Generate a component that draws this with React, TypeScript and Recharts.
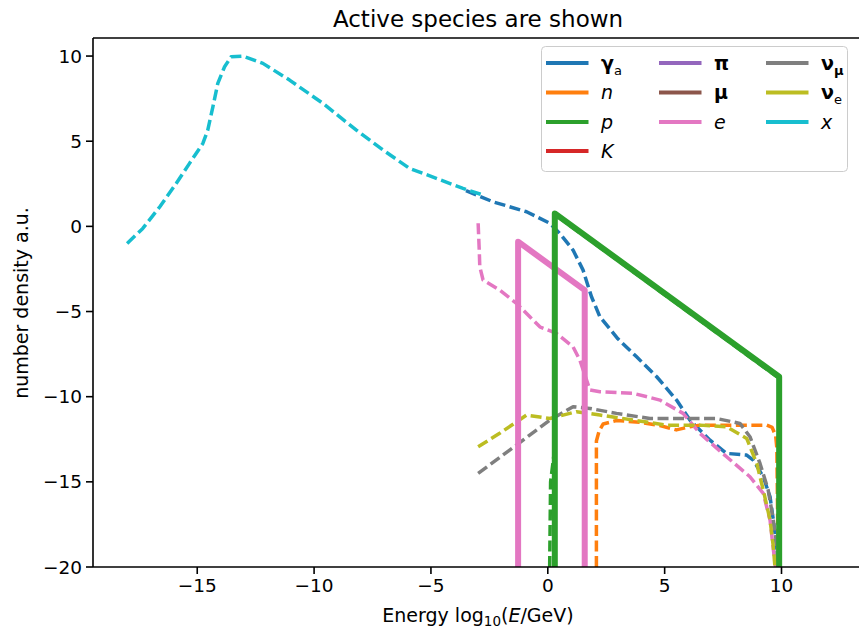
import React from 'react';
import { LineChart, Line, XAxis, YAxis, Legend, ReferenceLine } from 'recharts';

const FONT = '"DejaVu Sans", Verdana, sans-serif';

// ---- data: [log10(E/GeV), number density] ----
const xDashed: number[][] = [
  [-18.0, -1.0], [-17.33, -0.12], [-16.6, 1.15], [-15.9, 2.52], [-15.33, 3.7], [-14.76, 4.87],
  [-14.55, 5.65], [-14.33, 7.02], [-14.12, 8.4], [-13.83, 9.37], [-13.55, 9.96], [-13.05, 10.0],
  [-12.19, 9.57], [-11.05, 8.59], [-9.62, 7.22], [-8.19, 5.65], [-7.05, 4.48], [-5.91, 3.4],
  [-4.77, 2.82], [-3.63, 2.23], [-2.77, 1.84],
];
const gammaDashed: number[][] = [
  [-3.5, 2.1], [-2.34, 1.44], [-0.91, 0.86], [0.09, 0.18], [0.51, -0.41], [1.08, -1.39],
  [1.51, -2.57], [1.87, -4.13], [2.23, -5.31], [3.0, -6.6], [3.8, -7.66], [4.66, -8.83],
  [5.51, -10.2], [6.08, -11.37], [6.94, -12.55], [7.65, -13.33], [8.51, -13.43], [8.79, -13.72],
  [9.22, -14.7], [9.51, -15.88], [9.65, -17.25], [9.79, -18.81], [9.86, -20],
];
const eDashed: number[][] = [
  [-2.98, 0.18], [-2.93, -1.5], [-2.91, -2.37], [-2.77, -3.15], [-2.06, -3.74], [-1.34, -4.52],
  [-0.77, -5.31], [-0.34, -5.9], [0.37, -6.28], [1.08, -7.07], [1.37, -7.85], [1.66, -9.03],
  [1.8, -9.6], [2.23, -9.71], [3.65, -9.8], [4.8, -10.2], [5.79, -10.98], [6.51, -12.15],
  [7.65, -13.53], [8.65, -14.7], [9.22, -15.68], [9.51, -17.25], [9.72, -19.8], [9.75, -20],
];
const nDashed: number[][] = [
  [2.08, -20], [2.08, -12.6], [2.2, -12.0], [2.37, -11.6], [2.94, -11.4], [3.94, -11.5],
  [4.8, -11.7], [5.5, -11.95], [6.08, -11.77], [6.51, -11.67], [7.94, -11.67], [9.37, -11.67],
  [9.6, -11.8], [9.75, -12.3], [9.8, -13], [9.86, -20],
];
const numuDashed: number[][] = [
  [-2.98, -14.5], [-1.34, -12.84], [0.09, -11.37], [1.08, -10.59], [1.8, -10.69], [2.94, -10.98],
  [4.37, -11.28], [5.79, -11.28], [7.22, -11.28], [8.22, -11.57], [8.65, -12.35], [9.08, -13.92],
  [9.43, -15.48], [9.65, -17.25], [9.79, -18.6], [9.85, -20],
];
const nueDashed: number[][] = [
  [-2.98, -12.94], [-2.06, -12.15], [-0.91, -11.08], [0.09, -11.28], [1.23, -10.88], [2.23, -11.08],
  [3.65, -11.37], [5.08, -11.67], [6.51, -11.67], [7.65, -11.77], [8.51, -12.45], [8.94, -13.92],
  [9.22, -15.48], [9.51, -17.25], [9.65, -18.81], [9.72, -20],
];
const pDashed: number[][] = [
  [0.08, -20], [0.12, -15], [0.3, -13], [0.3, 0.7], [9.88, -8.9], [9.88, -20],
];
const eSolid: number[][] = [[-1.27, -20], [-1.27, -0.9], [1.58, -3.74], [1.58, -20]];
const pSolid: number[][] = [[0.3, -20], [0.3, 0.76], [9.9, -8.83], [9.9, -20]];

const xTicks = [-15, -10, -5, 0, 5, 10];
const yTicks = [-20, -15, -10, -5, 0, 5, 10];

const C = {
  gamma: '#1f77b4', n: '#ff7f0e', p: '#2ca02c', K: '#d62728', pi: '#9467bd',
  mu: '#8c564b', e: '#e377c2', numu: '#7f7f7f', nue: '#bcbd22', x: '#17becf',
};

const toPts = (arr: number[][]) => arr.map(([x, y]) => ({ x, y }));
const fmt = (v: number) => (v < 0 ? '\u2212' + Math.abs(v) : String(v));

const DASH = '11 4.5';

const legendItems: { key: string; col: number; row: number }[] = [
  { key: 'gamma', col: 0, row: 0 }, { key: 'n', col: 0, row: 1 }, { key: 'p', col: 0, row: 2 },
  { key: 'K', col: 0, row: 3 }, { key: 'pi', col: 1, row: 0 }, { key: 'mu', col: 1, row: 1 },
  { key: 'e', col: 1, row: 2 }, { key: 'numu', col: 2, row: 0 }, { key: 'nue', col: 2, row: 1 },
  { key: 'x', col: 2, row: 2 },
];

function LegendLabel({ k }: { k: string }) {
  switch (k) {
    case 'gamma':
      return (<><tspan fontWeight="bold">γ</tspan><tspan fontSize={13} dy={5}>a</tspan></>);
    case 'pi': return <tspan fontWeight="bold">π</tspan>;
    case 'mu': return <tspan fontWeight="bold">μ</tspan>;
    case 'numu':
      return (<><tspan fontWeight="bold">ν</tspan><tspan fontSize={13} fontWeight="bold" dy={5}>μ</tspan></>);
    case 'nue':
      return (<><tspan fontWeight="bold">ν</tspan><tspan fontSize={13} dy={5}>e</tspan></>);
    default:
      return <tspan fontStyle="italic">{k}</tspan>;
  }
}

function LegendBox() {
  const colX = [5, 118, 225];
  const rowY = [17, 46.5, 76, 105];
  return (
    <svg width={308} height={127} style={{ display: 'block' }}>
      <rect x={0.5} y={0.5} width={306} height={125} rx={4} fill="#fff" fillOpacity={0.8} stroke="#cccccc" />
      {legendItems.map((it) => (
        <g key={it.key}>
          <line x1={colX[it.col]} x2={colX[it.col] + 42.5} y1={rowY[it.row]} y2={rowY[it.row]}
            stroke={(C as any)[it.key]} strokeWidth={4} />
          <text x={colX[it.col] + 55} y={rowY[it.row]} dy="0.36em" fontSize={19} fontFamily={FONT} fill="#000">
            <LegendLabel k={it.key} />
          </text>
        </g>
      ))}
    </svg>
  );
}

export default function App() {
  const axisStyle = { stroke: '#000', strokeWidth: 1.6 };
  const tickStyle = { fontSize: 18.5, fill: '#000', fontFamily: FONT };
  const dashed = { strokeWidth: 3.5, strokeDasharray: DASH, dot: false, isAnimationActive: false, strokeLinejoin: 'round' as const };
  return (
    <div style={{ position: 'absolute', left: 0, top: 0, width: 859, height: 632, overflow: 'hidden', background: '#fff' }}>
      <div style={{ position: 'absolute', left: 0, top: 0 }}>
        <LineChart width={880} height={632} margin={{ top: 38, right: 16, bottom: 0, left: 0 }}>
          <XAxis type="number" dataKey="x" domain={[-19.46, 13.53]} ticks={xTicks} allowDataOverflow
            tickFormatter={fmt} height={65} tickSize={7} tickMargin={5} tick={tickStyle}
            axisLine={axisStyle} tickLine={axisStyle} />
          <YAxis type="number" dataKey="y" domain={[-20, 11.06]} ticks={yTicks} allowDataOverflow
            tickFormatter={fmt} width={93} tickSize={7} tickMargin={4} tick={tickStyle}
            axisLine={axisStyle} tickLine={axisStyle} />
          <ReferenceLine y={11.06} stroke="#000" strokeWidth={1.6} />
          <Line data={toPts(gammaDashed)} dataKey="y" stroke={C.gamma} {...dashed} />
          <Line data={toPts(nDashed)} dataKey="y" stroke={C.n} {...dashed} />
          <Line data={toPts(pDashed)} dataKey="y" stroke={C.p} {...dashed} />
          <Line data={toPts(eDashed)} dataKey="y" stroke={C.e} {...dashed} />
          <Line data={toPts(numuDashed)} dataKey="y" stroke={C.numu} {...dashed} />
          <Line data={toPts(nueDashed)} dataKey="y" stroke={C.nue} {...dashed} />
          <Line data={toPts(xDashed)} dataKey="y" stroke={C.x} {...dashed} />
          <Line data={toPts(eSolid)} dataKey="y" stroke={C.e} strokeWidth={6} dot={false} isAnimationActive={false} strokeLinejoin="round" />
          <Line data={toPts(pSolid)} dataKey="y" stroke={C.p} strokeWidth={6} dot={false} isAnimationActive={false} strokeLinejoin="round" />
          <Legend verticalAlign="middle" align="center" layout="horizontal"
            wrapperStyle={{ left: 541, top: 46, width: 308, height: 127 }}
            content={() => <LegendBox />} />
        </LineChart>
      </div>
      <svg width={859} height={632} style={{ position: 'absolute', left: 0, top: 0, pointerEvents: 'none' }}>
        <text x={478} y={27} textAnchor="middle" fontSize={23} fontFamily={FONT} fill="#000">Active species are shown</text>
        <text x={478} y={622} textAnchor="middle" fontSize={19} fontFamily={FONT} fill="#000">
          Energy log<tspan fontSize={13.5} dy={4}>10</tspan><tspan dy={-4}>(</tspan><tspan fontStyle="italic">E</tspan>/GeV)
        </text>
        <text x={28} y={303} textAnchor="middle" fontSize={19} fontFamily={FONT} fill="#000"
          transform="rotate(-90, 28, 303)">number density a.u.</text>
      </svg>
    </div>
  );
}
